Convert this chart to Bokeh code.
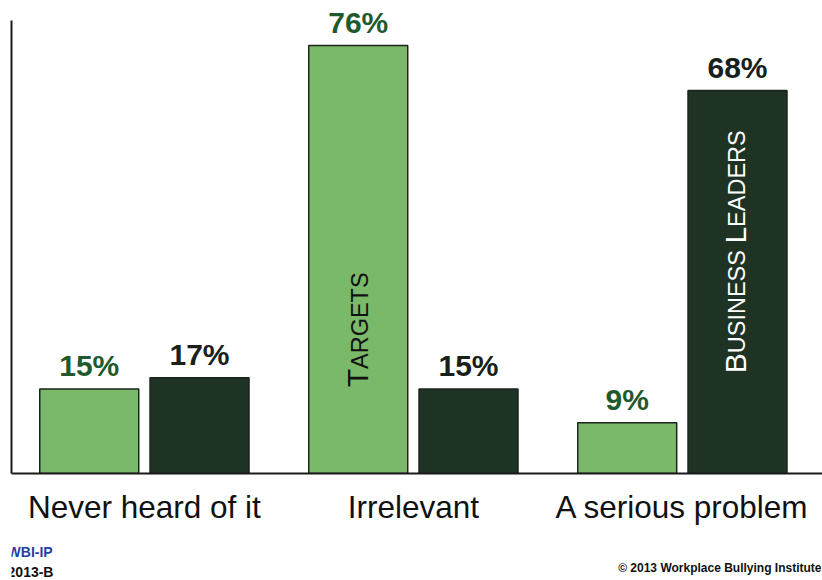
import math
from bokeh.plotting import figure
from bokeh.layouts import column
from bokeh.models import ColumnDataSource, Range1d, FixedTicker
from bokeh.core.properties import value
from bokeh.embed import file_html
from bokeh.resources import INLINE

# ---- data ----
categories = ["Never heard of it", "Irrelevant", "A serious problem"]
targets = [15, 76, 9]
business_leaders = [17, 15, 68]

# ---- style ----
FONT = "Liberation Sans"
LIGHT = "#7ab86a"
DARK = "#1e3324"
EDGE = "#1b241d"
OFFSET = 0.205
BAR_W = 0.368
MID = 0.3465  # distance (em) from "middle" anchor down to the alphabetic baseline

W, H_MAIN, H_FOOT = 822, 530, 50
p = figure(width=W, height=H_MAIN, output_backend="svg", toolbar_location=None,
           x_range=Range1d(-0.494, 2.521), y_range=Range1d(0, 84.0),
           min_border_left=11, min_border_right=0, min_border_top=0,
           min_border_bottom=57)
p.outline_line_color = None
p.grid.visible = False
p.background_fill_color = "white"
p.border_fill_color = "white"

idx = list(range(len(categories)))
src_t = ColumnDataSource(dict(x=[i - OFFSET for i in idx], top=targets,
                              label=[f"{v}%" for v in targets]))
src_b = ColumnDataSource(dict(x=[i + OFFSET for i in idx], top=business_leaders,
                              label=[f"{v}%" for v in business_leaders]))

p.vbar(x="x", top="top", bottom=0, width=BAR_W, source=src_t,
       fill_color=LIGHT, line_color=EDGE, line_width=1.5)
p.vbar(x="x", top="top", bottom=0, width=BAR_W, source=src_b,
       fill_color=DARK, line_color=EDGE, line_width=1.5)

VAL_SIZE = 30
lab_kw = dict(text_font=value(FONT), text_font_style="bold",
              text_font_size=f"{VAL_SIZE}px", text_align="center",
              text_baseline="middle", y_offset=-(13 + MID * VAL_SIZE))
p.text(x="x", y="top", text="label", source=src_t, text_color="#1f5a2e", **lab_kw)
p.text(x="x", y="top", text="label", source=src_b, text_color="#18201b", **lab_kw)

# ---- small-caps rotated series labels inside bars ----
ADV = {"A": 667, "B": 667, "D": 722, "E": 667, "G": 778, "I": 278, "L": 556,
       "N": 722, "R": 722, "S": 667, "T": 611, "U": 722, " ": 278}
BIG, SMALL = 30, 23.5

def smallcaps(name):
    pieces = []
    for word_i, word in enumerate(name.upper().split(" ")):
        if word_i > 0:
            pieces.append((" ", SMALL))
        pieces.append((word[0], BIG))
        pieces.append((word[1:], SMALL))
    return pieces

def rotated_label(x, y, name, color, base_shift):
    pos = 0.0
    for txt, size in smallcaps(name):
        p.text(x=[x], y=[y], text=[txt], angle=math.pi / 2,
               text_font=value(FONT), text_font_size=f"{size}px",
               text_align="left", text_baseline="middle",
               x_offset=base_shift - MID * size, y_offset=-pos, text_color=color)
        pos += sum(ADV[c] for c in txt) / 1000 * size

rotated_label(1 - OFFSET, 15.3, "Targets", "#111111", 10)
rotated_label(2 + OFFSET, 17.8, "Business Leaders", "#ffffff", 8)

# ---- axes ----
p.xaxis.ticker = FixedTicker(ticks=idx)
p.xaxis.major_label_overrides = {i: c for i, c in enumerate(categories)}
p.xaxis.major_tick_line_color = None
p.xaxis.minor_tick_line_color = None
p.xaxis.axis_line_width = 2
p.xaxis.axis_line_color = "#1a1a1a"
p.xaxis.major_label_text_font = FONT
p.xaxis.major_label_text_font_size = "31.5px"
p.xaxis.major_label_text_color = "#111111"
p.xaxis.major_label_standoff = 9

p.yaxis.ticker = FixedTicker(ticks=[])
p.yaxis.major_label_text_font_size = "0px"
p.yaxis.major_tick_line_color = None
p.yaxis.minor_tick_line_color = None
p.yaxis.major_tick_out = 0
p.yaxis.major_label_standoff = 0
p.yaxis.bounds = (0, 80.5)
p.yaxis.axis_line_width = 2
p.yaxis.axis_line_color = "#1a1a1a"

# ---- footer strip ----
f = figure(width=W, height=H_FOOT, output_backend="svg", toolbar_location=None,
           x_range=Range1d(0, W), y_range=Range1d(H_FOOT, 0),
           min_border=0, x_axis_type=None, y_axis_type=None)
f.outline_line_color = None
f.grid.visible = False
f.background_fill_color = "white"
f.border_fill_color = "white"

foot_kw = dict(text_font=value(FONT), text_font_style="bold", text_baseline="middle")
f.text(x=[-4], y=[21.5], text=["WBI-IP"], text_font_size="14px",
       text_color="#1f3fa8", text_align="left", **foot_kw)
f.text(x=[-4], y=[41], text=["2013-B"], text_font_size="14px",
       text_color="#111111", text_align="left", **foot_kw)
f.text(x=[821], y=[37.5], text=["\u00a9 2013 Workplace Bullying Institute"],
       text_font_size="12px", text_color="#111111", text_align="right", **foot_kw)

layout = column(p, f, spacing=0)
open("out.html", "w").write(file_html(layout, INLINE))
